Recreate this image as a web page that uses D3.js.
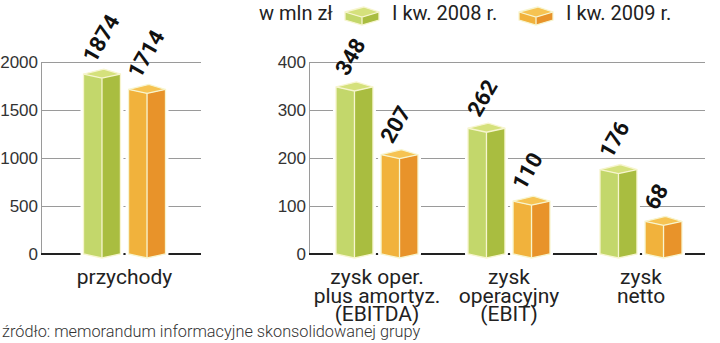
<!DOCTYPE html>
<html>
<head>
<meta charset="utf-8">
<script src="https://cdn.jsdelivr.net/npm/d3@7"></script>
<style>
  body { margin: 0; background: #fff; }
  svg { display: block; font-family: Roboto, "Noto Sans", sans-serif; }
  .tick text { font-size: 17px; font-weight: 300; fill: #333; }
  .tick line { stroke: #9a9a9a; }
  .domain { stroke: #9a9a9a; }
</style>
</head>
<body>
<svg id="chart"></svg>
<script>
// dane (w mln zł)
const seriesNames = ['I kw. 2008 r.', 'I kw. 2009 r.'];
const revenueCategories = ['przychody'];
const revenue2008 = [1874];
const revenue2009 = [1714];
const revenueTicks = [0, 500, 1000, 1500, 2000];

const profitCategories = [
    ['zysk oper.', 'plus amortyz.', '(EBITDA)'],
    ['zysk', 'operacyjny', '(EBIT)'],
    ['zysk', 'netto']
];
const profit2008 = [348, 262, 176];
const profit2009 = [207, 110, 68];
const profitTicks = [0, 100, 200, 300, 400];

const unitLabel = 'w mln zł';
const sourceText = 'źródło: memorandum informacyjne skonsolidowanej grupy';

const colors = [
    { top: '#d5e17c', left: '#c3d76b', right: '#a9bd40' },
    { top: '#f6c352', left: '#f1b23c', right: '#e8932a' }
];
const edge = '#f7f5cf';

const W = 720, H = 343;
const svg = d3.select('#chart').attr('width', W).attr('height', H);

const baseY = 254, topY = 62;

// prostopadłościan: boki na wysokości yTop, przód opuszczony o f, tył podniesiony o d
function box(g, x0, w, yTop, yBase, c, d, f) {
    const xm = x0 + w * 0.5, xb = x0 + w * 0.55, x1 = x0 + w;
    const outline = [[x0, yTop], [xb, yTop - d], [x1, yTop], [x1, yBase], [xm, yBase + f], [x0, yBase]];
    const left = [[x0, yTop], [xm, yTop + f], [xm, yBase + f], [x0, yBase]];
    const right = [[xm, yTop + f], [x1, yTop], [x1, yBase], [xm, yBase + f]];
    const top = [[x0, yTop], [xb, yTop - d], [x1, yTop], [xm, yTop + f]];
    const line = pts => 'M' + pts.map(p => p.join(',')).join('L') + 'Z';
    g.append('path').attr('d', line(outline)).attr('fill', '#fff')
        .attr('stroke', '#fff').attr('stroke-width', 6).attr('stroke-linejoin', 'round');
    g.append('path').attr('d', line(left)).attr('fill', c.left);
    g.append('path').attr('d', line(right)).attr('fill', c.right);
    g.append('path').attr('d', line(top)).attr('fill', c.top);
    g.append('path').attr('d', line(outline)).attr('fill', 'none')
        .attr('stroke', edge).attr('stroke-width', 1.3);
    g.append('path').attr('d', `M${xm},${yTop + f}L${xm},${yBase + f}M${x0},${yTop}L${xm},${yTop + f}L${x1},${yTop}`)
        .attr('fill', 'none').attr('stroke', edge).attr('stroke-width', 1.3);
}

function panel(cats, v2008, v2009, ticks, xRange, axisX, gridEnd) {
    const y = d3.scaleLinear().domain([0, ticks[ticks.length - 1]]).range([baseY, topY]);
    const x = d3.scaleBand().domain(d3.range(cats.length)).range(xRange);
    const xs = d3.scaleBand().domain([0, 1]).range([0, 82]).paddingInner(0.18);
    const off = (x.bandwidth() - 82) / 2;

    const axis = d3.axisLeft(y).tickValues(ticks).tickFormat(d3.format('d'))
        .tickSizeInner(-(gridEnd - axisX)).tickSizeOuter(0).tickPadding(3);
    const ag = svg.append('g').attr('transform', `translate(${axisX},0)`).call(axis);
    ag.selectAll('.tick line').attr('stroke', '#9a9a9a');

    svg.append('line').attr('x1', axisX).attr('x2', gridEnd)
        .attr('y1', y(0)).attr('y2', y(0)).attr('stroke', '#222').attr('stroke-width', 2.2);

    const g = svg.append('g');
    cats.forEach((cat, i) => {
        [v2008[i], v2009[i]].forEach((v, s) => {
            const bx = x(i) + off + xs(s);
            box(g, bx, xs.bandwidth(), y(v), y(0), colors[s], 5, 4);
            const cx = bx + xs.bandwidth() / 2;
            g.append('text')
                .attr('transform', `translate(${cx - 7},${y(v) - 10}) rotate(-60)`)
                .attr('font-size', 22).attr('font-weight', 700).attr('fill', '#111')
                .text(v);
        });
        const lines = Array.isArray(cat) ? cat : [cat];
        const t = svg.append('text').attr('text-anchor', 'middle')
            .attr('font-size', 21).attr('fill', '#222');
        lines.forEach((l, k) => {
            t.append('tspan').attr('x', x(i) + x.bandwidth() / 2).attr('y', 284 + k * 18.5).text(l);
        });
    });
}

panel(revenueCategories, revenue2008, revenue2009, revenueTicks, [41, 208], 41, 201);
panel(profitCategories, profit2008, profit2009, profitTicks, [311, 707], 309, 705);

// legenda
const lg = svg.append('g');
lg.append('text').attr('x', 259).attr('y', 20).attr('font-size', 20).attr('fill', '#222').text(unitLabel);
const legendX = [345, 519];
seriesNames.forEach((s, i) => {
    box(lg, legendX[i], 34, 12, 20, colors[i], 5, 5);
    lg.append('text').attr('x', legendX[i] + 47).attr('y', 20)
        .attr('font-size', 20).attr('fill', '#222').text(s);
});

svg.append('text').attr('x', 2).attr('y', 337)
    .attr('font-size', 16.3).attr('font-weight', 300).attr('fill', '#333').text(sourceText);
</script>
</body>
</html>
